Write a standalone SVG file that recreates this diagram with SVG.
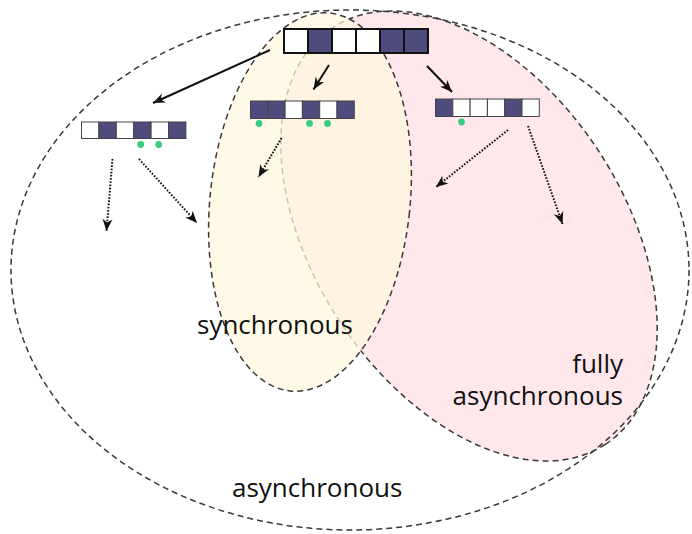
<svg xmlns="http://www.w3.org/2000/svg" width="692" height="534" viewBox="0 0 692 534">
  <style>
    .region { stroke: #3a3a3a; stroke-width: 1.5; stroke-dasharray: 6 4; }
    .label { font-family: "Open Sans", "Noto Sans", sans-serif; font-size: 26px; fill: #111; }
    .w { fill: #ffffff; }
    .d { fill: #4f4c7d; }
    .big rect { stroke: #111; stroke-width: 2; }
    .small rect { stroke: #444; stroke-width: 1; }
    .dot { fill: #3ccb85; }
    .solid { fill: none; stroke: #111; stroke-width: 2; }
    .dotted { fill: none; stroke: #111; stroke-width: 2; stroke-dasharray: 1.6 1.6; }
  </style>
  <defs>
    <marker id="head" viewBox="-13 -6 14 12" refX="0" refY="0" markerWidth="14" markerHeight="12" markerUnits="userSpaceOnUse" orient="auto">
      <path d="M-12,-5 L0,0 L-12,5 L-8.5,0 Z" fill="#111"/>
    </marker>
  </defs>

  <rect width="692" height="534" fill="#ffffff"/>

  <!-- regions -->
  <g id="fully-asynchronous-region">
    <ellipse class="region" cx="469" cy="236" rx="249" ry="155" transform="rotate(56.8 469 236)" fill="#ffe7eb"/>
  </g>
  <g id="synchronous-region">
    <ellipse class="region" cx="310" cy="202" rx="100" ry="190" transform="rotate(6 310 202)" fill="#fff8de" fill-opacity="0.72"/>
  </g>
  <g id="asynchronous-region">
    <ellipse class="region" cx="350" cy="270" rx="339" ry="260" fill="none"/>
  </g>

  <!-- labels -->
  <text class="label" x="197" y="334">synchronous</text>
  <text class="label" x="623" y="373" text-anchor="end">fully</text>
  <text class="label" x="623" y="405" text-anchor="end">asynchronous</text>
  <text class="label" x="232" y="497">asynchronous</text>

  <!-- connectors -->
  <g id="connectors">
    <path class="solid" d="M270,50 L153,103" marker-end="url(#head)"/>
    <path class="solid" d="M329,65 L313.5,89.5" marker-end="url(#head)"/>
    <path class="solid" d="M427,66 L452,92" marker-end="url(#head)"/>
    <path class="dotted" d="M112.5,159 L106.5,231" marker-end="url(#head)"/>
    <path class="dotted" d="M139,159 L197,223" marker-end="url(#head)"/>
    <path class="dotted" d="M281.5,138 L258.5,177" marker-end="url(#head)"/>
    <path class="dotted" d="M508,130 L436,187" marker-end="url(#head)"/>
    <path class="dotted" d="M528,126 L562.5,224" marker-end="url(#head)"/>
  </g>

  <!-- state vectors -->
  <g id="root-state" class="big">
    <rect class="w" x="284" y="29" width="24" height="24"/>
    <rect class="d" x="308" y="29" width="24" height="24"/>
    <rect class="w" x="332" y="29" width="24" height="24"/>
    <rect class="w" x="356" y="29" width="24" height="24"/>
    <rect class="d" x="380" y="29" width="24" height="24"/>
    <rect class="d" x="404" y="29" width="24" height="24"/>
  </g>

  <g id="state-left" class="small">
    <rect class="w" x="81.5" y="122" width="17.4" height="16.5"/>
    <rect class="d" x="98.9" y="122" width="17.4" height="16.5"/>
    <rect class="w" x="116.3" y="122" width="17.4" height="16.5"/>
    <rect class="d" x="133.7" y="122" width="17.4" height="16.5"/>
    <rect class="w" x="151.1" y="122" width="17.4" height="16.5"/>
    <rect class="d" x="168.5" y="122" width="17.4" height="16.5"/>
    <circle class="dot" cx="140.7" cy="144.5" r="3.4"/>
    <circle class="dot" cx="158.7" cy="144.5" r="3.4"/>
  </g>

  <g id="state-middle" class="small">
    <rect class="d" x="250.5" y="101" width="17.3" height="17.5"/>
    <rect class="d" x="267.8" y="101" width="17.3" height="17.5"/>
    <rect class="w" x="285.1" y="101" width="17.3" height="17.5"/>
    <rect class="d" x="302.4" y="101" width="17.3" height="17.5"/>
    <rect class="w" x="319.7" y="101" width="17.3" height="17.5"/>
    <rect class="d" x="337" y="101" width="17.3" height="17.5"/>
    <circle class="dot" cx="259" cy="123.5" r="3.4"/>
    <circle class="dot" cx="309.5" cy="123.5" r="3.4"/>
    <circle class="dot" cx="327.5" cy="123.5" r="3.4"/>
  </g>

  <g id="state-right" class="small">
    <rect class="d" x="435.5" y="99" width="17.3" height="17.5"/>
    <rect class="w" x="452.8" y="99" width="17.3" height="17.5"/>
    <rect class="w" x="470.1" y="99" width="17.3" height="17.5"/>
    <rect class="w" x="487.4" y="99" width="17.3" height="17.5"/>
    <rect class="d" x="504.7" y="99" width="17.3" height="17.5"/>
    <rect class="w" x="522" y="99" width="17.3" height="17.5"/>
    <circle class="dot" cx="461.5" cy="122" r="3.4"/>
  </g>
</svg>
